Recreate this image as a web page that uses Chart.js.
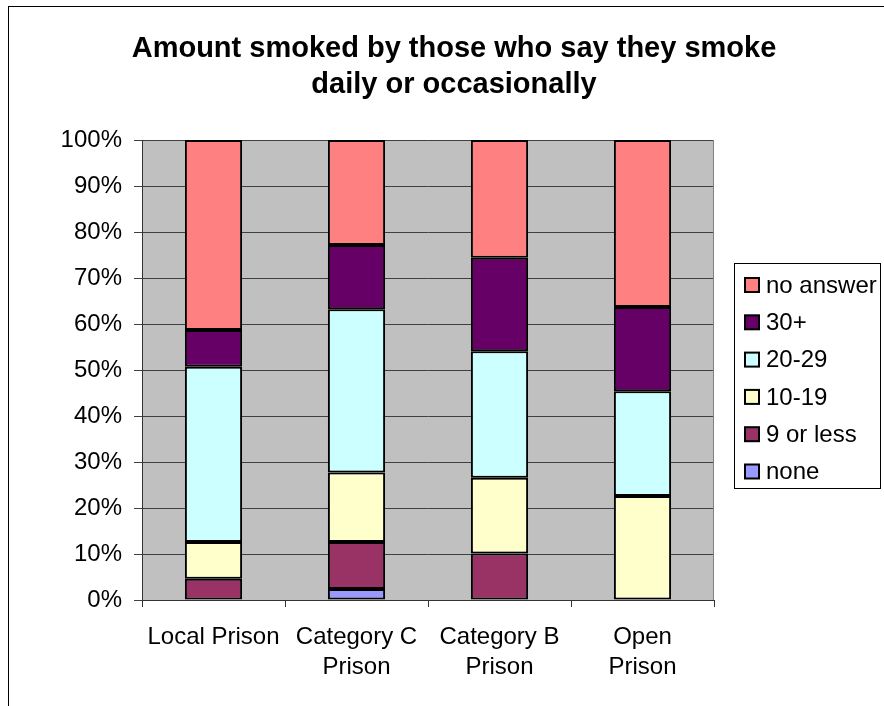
<!DOCTYPE html>
<html lang="en">
<head>
    <meta charset="UTF-8">
    <title>Amount smoked</title>
    <script src="https://cdn.jsdelivr.net/npm/chart.js"></script>
    <style>
        body { margin: 0; background: #fff; }
        .wrap { position: relative; width: 884px; height: 706px; overflow: hidden; }
        .frame { position: absolute; left: 8px; top: 6px; width: 900px; height: 720px; border: 1px solid #000; }
        canvas { position: absolute; left: 0; top: 0; }
    </style>
</head>
<body>
<div class="wrap">
    <div class="frame"></div>
    <canvas id="smokeChart" width="884" height="706"></canvas>
</div>
<script>
    var prisons = [["Local Prison"], ["Category C", "Prison"], ["Category B", "Prison"], ["Open", "Prison"]];

    // bottom to top of each stack
    var none = [0, 2.4, 0, 0];
    var nineOrLess = [4.6, 10.2, 10.1, 0];
    var tenTo19 = [8.0, 15.1, 16.5, 22.6];
    var twentyTo29 = [38.1, 35.5, 27.5, 22.8];
    var thirtyPlus = [8.0, 14.0, 20.3, 18.3];
    var noAnswer = [41.3, 22.8, 25.6, 36.3];

    var yTicks = [0, 10, 20, 30, 40, 50, 60, 70, 80, 90, 100];

    var font = "'Liberation Sans', Arial, sans-serif";

    function series(label, data, color) {
        return {
            label: label,
            data: data,
            backgroundColor: color,
            borderColor: "#000",
            borderWidth: 2,
            borderSkipped: false,
            barPercentage: 0.4,
            categoryPercentage: 1
        };
    }

    // grey plot background + lighter right edge
    var plotBg = {
        id: "plotBg",
        beforeDraw: function(chart) {
            var a = chart.chartArea, ctx = chart.ctx;
            ctx.save();
            ctx.fillStyle = "#c0c0c0";
            ctx.fillRect(a.left, a.top, a.right - a.left, a.bottom - a.top);
            ctx.restore();
        },
        beforeDatasetsDraw: function(chart) {
            var a = chart.chartArea, ctx = chart.ctx;
            ctx.save();
            ctx.strokeStyle = "#808080";
            ctx.lineWidth = 1;
            ctx.beginPath();
            ctx.moveTo(a.right - 0.5, a.top);
            ctx.lineTo(a.right - 0.5, a.bottom);
            ctx.stroke();
            ctx.restore();
        }
    };

    // boxed legend on the right, top series first
    var boxLegend = {
        id: "boxLegend",
        afterDraw: function(chart) {
            var ctx = chart.ctx;
            var sets = chart.data.datasets.slice().reverse();
            var x = 734.5, y = 263.5, w = 146, h = 225;
            ctx.save();
            ctx.strokeStyle = "#000";
            ctx.lineWidth = 1;
            ctx.strokeRect(x, y, w, h);
            ctx.font = "24px " + font;
            ctx.textBaseline = "middle";
            ctx.textAlign = "left";
            for (var i = 0; i < sets.length; i++) {
                var cy = 285 + i * 37.3;
                ctx.fillStyle = sets[i].backgroundColor;
                ctx.fillRect(745, cy - 7, 14, 14);
                ctx.lineWidth = 2;
                ctx.strokeRect(745, cy - 7, 14, 14);
                ctx.fillStyle = "#000";
                ctx.fillText(sets[i].label, 766, cy + 1);
            }
            ctx.restore();
        }
    };

    new Chart(document.getElementById("smokeChart"), {
        type: "bar",
        data: {
            labels: prisons,
            datasets: [
                series("none", none, "#9999ff"),
                series("9 or less", nineOrLess, "#993366"),
                series("10-19", tenTo19, "#ffffcc"),
                series("20-29", twentyTo29, "#ccffff"),
                series("30+", thirtyPlus, "#660066"),
                series("no answer", noAnswer, "#ff8080")
            ]
        },
        options: {
            responsive: false,
            animation: false,
            layout: { padding: { left: 24, right: 0, top: 0, bottom: 0 } },
            plugins: {
                legend: { display: false },
                tooltip: { enabled: false },
                title: {
                    display: true,
                    text: ["Amount smoked by those who say they smoke", "daily or occasionally"],
                    color: "#000",
                    font: { family: font, size: 29, weight: "bold", lineHeight: 1.25 },
                    padding: { top: 31, bottom: 36.5 }
                }
            },
            scales: {
                x: {
                    stacked: true,
                    grid: { drawOnChartArea: false, color: "#333", tickLength: 7 },
                    border: { color: "#333" },
                    ticks: {
                        color: "#000",
                        font: { family: font, size: 24, lineHeight: 1.25 },
                        padding: 15,
                        maxRotation: 0,
                        autoSkip: false
                    },
                    afterFit: function(s) { s.height = 106; }
                },
                y: {
                    stacked: true,
                    min: 0,
                    max: 100,
                    afterBuildTicks: function(s) {
                        s.ticks = yTicks.map(function(v) { return { value: v }; });
                    },
                    grid: { color: "#404040", tickLength: 8 },
                    border: { color: "#333" },
                    ticks: {
                        color: "#000",
                        font: { family: font, size: 24 },
                        padding: 12,
                        callback: function(v) { return v + "%"; }
                    },
                    afterFit: function(s) { s.width = 118; }
                },
                // empty space on the right where the legend sits
                spacer: {
                    type: "linear",
                    position: "right",
                    grid: { display: false },
                    border: { display: false },
                    ticks: { display: false },
                    afterFit: function(s) { s.width = 170; }
                }
            }
        },
        plugins: [plotBg, boxLegend]
    });
</script>
</body>
</html>
